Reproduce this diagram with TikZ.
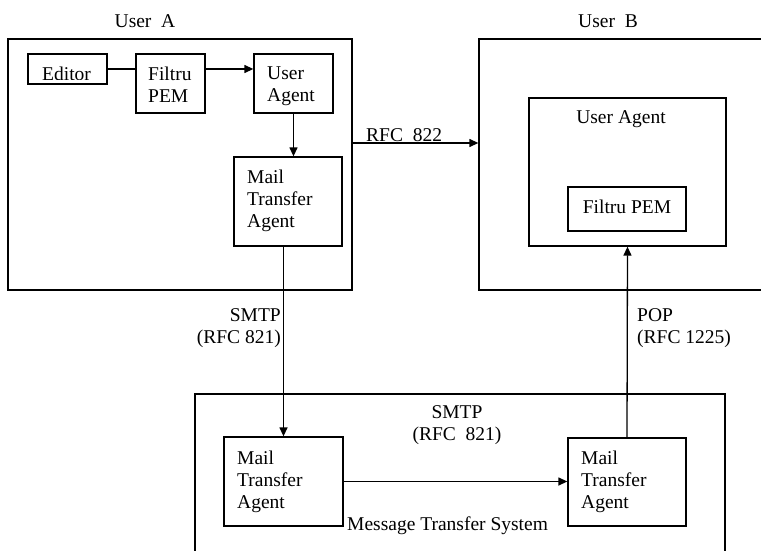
\documentclass[tikz,border=0pt]{standalone}
\usepackage{fontspec}
\setmainfont{Liberation Serif}
\usetikzlibrary{arrows.meta}
\begin{document}
\begin{tikzpicture}[x=1pt,y=-1pt,
  font=\fontsize{19.5}{22}\selectfont,
  box/.style={draw, line width=1.3pt, inner sep=0pt, minimum width=#1},
  lbl/.style={inner sep=0pt, align=left},
  conn/.style={line width=1.3pt},
  arr/.style={conn, -{Triangle[length=9pt,width=8pt]}}]
\useasboundingbox (0,0) rectangle (761,551);
% boxes
\node[box=344pt, minimum height=251pt] (userA) at (180,164.5) {};
\node[box=79pt, minimum height=30pt] (editor) at (67.5,69) {};
\node[box=69pt, minimum height=59pt] (filtruA) at (170.5,83.5) {};
\node[box=79pt, minimum height=59pt] (uaA) at (293.5,83.5) {};
\node[box=108pt, minimum height=89pt] (mtaA) at (288,201.5) {};
\node[box=321pt, minimum height=251pt] (userB) at (639.5,164.5) {};
\node[box=197pt, minimum height=148pt] (uaB) at (627.5,172) {};
\node[box=118pt, minimum height=44pt] (filtruB) at (627,209) {};
\node[box=530pt, minimum height=206pt] (mts) at (460,497) {};
\node[box=119pt, minimum height=89pt] (mtaL) at (283.5,481.5) {};
\node[box=118pt, minimum height=88pt] (mtaR) at (627,482) {};
% texts
\node[lbl, anchor=base] (tUserA) at (145,28) {User~~A};
\node[lbl, anchor=base] (tUserB) at (608,28) {User~~B};
\begin{scope}
  \clip (editor.north west) rectangle ([yshift=5.5pt]editor.south east);
  \node[lbl, anchor=base west] (tEditor) at (42,81) {Editor};
\end{scope}
\node[lbl, anchor=north west] (tFiltruA) at (148,66.7) {Filtru\\PEM};
\node[lbl, anchor=north west] (tUaA) at (267,66.7) {User\\Agent};
\node[lbl, anchor=north west] (tMtaA) at (247,169.7) {Mail\\Transfer\\Agent};
\node[lbl, anchor=base] (tUaB) at (621,124) {User Agent};
\node[lbl, anchor=base] (tFiltruB) at (627,213) {Filtru PEM};
\node[lbl, anchor=base west] (tRfc822) at (366,141) {RFC~~822};
\node[lbl, anchor=north east, align=right] (tSmtpA) at (281,308.5) {SMTP\\(RFC 821)};
\node[lbl, anchor=north west] (tPop) at (637,308.5) {POP\\(RFC 1225)};
\node[lbl, anchor=north, align=center] (tSmtpM) at (457,405) {SMTP\\(RFC~~821)};
\node[lbl, anchor=north west] (tMtaL) at (237,450.5) {Mail\\Transfer\\Agent};
\node[lbl, anchor=north west] (tMtaR) at (581,450.5) {Mail\\Transfer\\Agent};
\node[lbl, anchor=base west] (tMts) at (347,530.5) {Message Transfer System};
% connectors
\draw[conn] (editor.east) -- (editor.east -| filtruA.west);
\draw[arr] (editor.east -| filtruA.east) -- (editor.east -| uaA.west);
\draw[arr] (uaA.south) -- (uaA.south |- mtaA.north);
\draw[arr] (mtaL.north |- mtaA.south) -- (mtaL.north);
\draw[arr] (mtaL.east) -- (mtaL.east -| mtaR.west);
\draw[arr] (mtaR.north) -- (uaB.south);
\draw[arr] ([yshift=21.5pt]userA.east) -- ([yshift=21.5pt]userA.east -| userB.west);
\end{tikzpicture}
\end{document}
